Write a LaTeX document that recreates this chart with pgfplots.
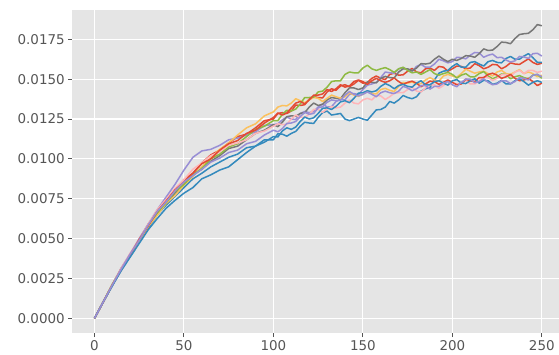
\documentclass[border=0pt]{standalone}
\usepackage{fontspec}
\setmainfont{DejaVu Sans}
\usepackage{pgfplots}
\usepackage{pgfplotstable}
\pgfplotsset{compat=1.18}
\definecolor{ggred}{HTML}{E24A33}
\definecolor{ggblue}{HTML}{348ABD}
\definecolor{ggpurple}{HTML}{988ED5}
\definecolor{gggray}{HTML}{777777}
\definecolor{ggyellow}{HTML}{FBC15E}
\definecolor{gggreen}{HTML}{8EBA42}
\definecolor{ggpink}{HTML}{FFB5B8}
\definecolor{ggbg}{HTML}{E5E5E5}
\definecolor{ticktext}{HTML}{555555}
\pgfplotstableread{
x a b c d e f g h i j
0 0 0 0 0 0 0 0 0 0 0
5 10.5e-4 10.5e-4 10.5e-4 10.5e-4 10.5e-4 10.5e-4 10.5e-4 10.5e-4 10.5e-4 10.5e-4
10 21e-4 20.5e-4 21e-4 21e-4 21e-4 21.5e-4 21e-4 21e-4 20.5e-4 21e-4
15 31.5e-4 30.5e-4 31.5e-4 31e-4 30.5e-4 31e-4 31.5e-4 30.5e-4 30e-4 31e-4
20 40e-4 39e-4 40.5e-4 39.5e-4 40e-4 40.5e-4 41e-4 40e-4 38.5e-4 40.5e-4
25 49.5e-4 48e-4 50e-4 49e-4 48e-4 49e-4 49.5e-4 49.5e-4 47e-4 49e-4
30 59e-4 56.5e-4 59e-4 57.5e-4 57.5e-4 58.5e-4 59e-4 58e-4 55.5e-4 58.5e-4
35 66.5e-4 65e-4 68e-4 66e-4 64.5e-4 66e-4 68e-4 67e-4 62.5e-4 67e-4
40 74.5e-4 71e-4 76e-4 72e-4 72e-4 72.5e-4 74.5e-4 73.5e-4 69e-4 73e-4
45 80e-4 76.5e-4 84e-4 78.5e-4 77e-4 79.5e-4 81.5e-4 80.5e-4 74e-4 80e-4
50 87e-4 82e-4 93e-4 84e-4 83.5e-4 84e-4 87e-4 85.5e-4 78.5e-4 85.5e-4
55 91e-4 87.5e-4 101e-4 90e-4 89e-4 90e-4 93.5e-4 91e-4 82e-4 89.5e-4
60 97.5e-4 91e-4 105e-4 93.5e-4 95e-4 94e-4 97.5e-4 97e-4 87.5e-4 93.5e-4
65 102.5e-4 95e-4 106e-4 98.5e-4 100.5e-4 100e-4 102e-4 100e-4 90e-4 98e-4
70 105.5e-4 98e-4 108.5e-4 102e-4 106e-4 103e-4 104.5e-4 105.5e-4 93e-4 100.5e-4
75 110e-4 101e-4 112e-4 106.5e-4 110e-4 107.5e-4 108.5e-4 109.5e-4 95e-4 104e-4
80 114e-4 103e-4 113e-4 108e-4 115e-4 109.5e-4 110e-4 111.5e-4 99.5e-4 105.5e-4
85 115.5e-4 107e-4 115e-4 112e-4 119.5e-4 114e-4 112e-4 116e-4 104e-4 109.5e-4
90 119.5e-4 108e-4 117e-4 116e-4 122e-4 118.5e-4 116e-4 118e-4 108e-4 111e-4
95 124e-4 112e-4 121e-4 118e-4 127e-4 120.5e-4 117.5e-4 122.5e-4 110.5e-4 115e-4
100 125e-4 112e-4 121.5e-4 121.5e-4 129.5e-4 124e-4 120.5e-4 126e-4 114e-4 118e-4
102.5 128.5e-4 115.75e-4 122e-4 120.25e-4 132.5e-4 124e-4 122e-4 128.75e-4 113.75e-4 117e-4
105 129e-4 115.5e-4 124.5e-4 123e-4 133.5e-4 128e-4 121.5e-4 127.5e-4 117.5e-4 119e-4
107.5 128.5e-4 114.25e-4 126.25e-4 126.5e-4 133.25e-4 130.5e-4 121.75e-4 128.75e-4 119.5e-4 122.25e-4
110 130e-4 116e-4 125e-4 127e-4 135e-4 130e-4 125e-4 132e-4 118.5e-4 122.5e-4
112.5 133.75e-4 117.25e-4 124.75e-4 126.75e-4 137.75e-4 131.25e-4 127.5e-4 135e-4 120e-4 123.5e-4
115 133.5e-4 120.5e-4 128.5e-4 128.5e-4 136.5e-4 134.5e-4 126e-4 136e-4 123.5e-4 126.5e-4
117.5 134e-4 123e-4 129.75e-4 129e-4 135.25e-4 138.5e-4 126e-4 134.5e-4 126.25e-4 129.25e-4
120 137.5e-4 122.5e-4 129e-4 132.5e-4 137e-4 138.5e-4 128e-4 137e-4 125e-4 128e-4
122.5 139e-4 122.25e-4 129.75e-4 135e-4 138.5e-4 138.75e-4 131e-4 140e-4 125.75e-4 128.5e-4
125 138.5e-4 126e-4 132.5e-4 133.5e-4 138e-4 142e-4 131e-4 140e-4 128.5e-4 132e-4
127.5 138.25e-4 129e-4 134.5e-4 134.25e-4 136e-4 142.5e-4 129.25e-4 140.75e-4 131.75e-4 132.75e-4
130 142e-4 130e-4 132.5e-4 137e-4 138e-4 145e-4 131.5e-4 143.5e-4 132e-4 135.5e-4
132.5 144e-4 127.5e-4 132.75e-4 138.5e-4 140e-4 148.5e-4 132.75e-4 142.25e-4 131e-4 137e-4
135 143e-4 128e-4 136e-4 138e-4 139e-4 149e-4 132e-4 144e-4 133e-4 136.5e-4
137.5 145.75e-4 128.5e-4 137.5e-4 137.75e-4 138e-4 149e-4 132.5e-4 146.5e-4 135.75e-4 136.75e-4
140 146.5e-4 125e-4 137e-4 141.5e-4 139e-4 153e-4 135e-4 145e-4 136.5e-4 140e-4
142.5 145.25e-4 124e-4 140.5e-4 144.5e-4 141.5e-4 154.5e-4 137e-4 145.75e-4 135.25e-4 142.25e-4
145 147e-4 125e-4 141e-4 144.5e-4 140e-4 154e-4 135e-4 148.5e-4 138e-4 140.5e-4
147.5 149.25e-4 126e-4 140.25e-4 143.5e-4 139.25e-4 154e-4 134.5e-4 149.5e-4 141.25e-4 139.5e-4
150 147.5e-4 125e-4 143.5e-4 144.5e-4 140.5e-4 157e-4 137e-4 148.5e-4 141.5e-4 140.5e-4
152.5 148e-4 124.25e-4 146.25e-4 148.25e-4 142.25e-4 158.75e-4 138e-4 146.75e-4 142.75e-4 142e-4
155 150.5e-4 127.5e-4 147e-4 148e-4 141e-4 156.5e-4 137e-4 149e-4 142e-4 140.5e-4
157.5 152e-4 130.75e-4 148e-4 147.75e-4 140.75e-4 155.5e-4 139.75e-4 150.5e-4 142.75e-4 139e-4
160 150.5e-4 131e-4 151e-4 150.5e-4 143.5e-4 156.5e-4 139.5e-4 149e-4 145.5e-4 141.5e-4
162.5 149.75e-4 132.5e-4 154.5e-4 151.75e-4 144.25e-4 157.25e-4 137.25e-4 148e-4 147.25e-4 142.5e-4
165 153e-4 136e-4 154e-4 151e-4 143e-4 156e-4 139e-4 149e-4 146e-4 141.5e-4
167.5 153.75e-4 135e-4 153.75e-4 150.75e-4 142.25e-4 154.25e-4 141.25e-4 150.75e-4 144e-4 141e-4
170 152.5e-4 137e-4 156.5e-4 154.5e-4 145.5e-4 156.5e-4 141.5e-4 148.5e-4 146e-4 142.5e-4
172.5 152.75e-4 139.75e-4 157.25e-4 156.5e-4 148e-4 157.5e-4 141.5e-4 146.75e-4 146.75e-4 145.5e-4
175 155e-4 138.5e-4 156e-4 156.5e-4 147.5e-4 155.5e-4 143.5e-4 148e-4 145.5e-4 144.5e-4
177.5 156.75e-4 137.75e-4 155e-4 155.25e-4 148.25e-4 154e-4 145e-4 148.75e-4 145e-4 142.75e-4
180 154.5e-4 139e-4 158e-4 157e-4 147e-4 154.5e-4 142.5e-4 147.5e-4 147.5e-4 144e-4
182.5 154e-4 142.5e-4 159.25e-4 159.75e-4 147.25e-4 153e-4 142e-4 145.25e-4 149e-4 146e-4
185 156.5e-4 144e-4 157.5e-4 159.5e-4 149.5e-4 154.5e-4 144.5e-4 147e-4 146.5e-4 146e-4
187.5 157e-4 144.75e-4 157.5e-4 160e-4 151e-4 156e-4 146.5e-4 148.75e-4 146.5e-4 143.75e-4
190 155.5e-4 149.5e-4 159.5e-4 162.5e-4 149.5e-4 153.5e-4 146.5e-4 148.5e-4 148.5e-4 145.5e-4
192.5 158e-4 153.75e-4 162.5e-4 164.5e-4 148.75e-4 152.5e-4 144.25e-4 146.75e-4 149e-4 145.5e-4
195 157.5e-4 155e-4 161.5e-4 162.5e-4 152e-4 153.5e-4 146e-4 148e-4 147.5e-4 147.5e-4
197.5 155e-4 155.5e-4 160.25e-4 161e-4 153e-4 154.25e-4 148.5e-4 149.5e-4 146.25e-4 148.5e-4
200 156.5e-4 158e-4 161e-4 162.5e-4 152e-4 153e-4 148e-4 148e-4 149e-4 146.5e-4
202.5 158.25e-4 159.75e-4 163.75e-4 161.75e-4 151.25e-4 150.75e-4 146.75e-4 146.5e-4 149.75e-4 145.25e-4
205 158e-4 157.5e-4 163.5e-4 163e-4 153.5e-4 152.5e-4 147.5e-4 147e-4 147.5e-4 148e-4
207.5 156.5e-4 157.5e-4 162.75e-4 164.75e-4 156.25e-4 153.5e-4 149.25e-4 150e-4 147.25e-4 150e-4
210 157e-4 160.5e-4 165e-4 164.5e-4 155e-4 151.5e-4 147e-4 149e-4 149e-4 150e-4
212.5 159.75e-4 161e-4 166.75e-4 163.75e-4 153.75e-4 151.5e-4 147e-4 148.5e-4 150.25e-4 147.75e-4
215 158.5e-4 159.5e-4 166.5e-4 166e-4 154.5e-4 153.5e-4 149e-4 151e-4 147.5e-4 148.5e-4
217.5 156.5e-4 158.25e-4 163.75e-4 169e-4 155e-4 154.75e-4 151.5e-4 151e-4 149.25e-4 150.25e-4
220 157.5e-4 161e-4 165e-4 168e-4 153.5e-4 152e-4 151e-4 153e-4 149e-4 148e-4
222.5 159.25e-4 161.75e-4 165.75e-4 168.25e-4 152e-4 150.25e-4 149.25e-4 153.75e-4 146.75e-4 146.5e-4
225 159e-4 160.5e-4 163.5e-4 170.5e-4 154.5e-4 151.5e-4 150.5e-4 152.5e-4 147.5e-4 147e-4
227.5 156.5e-4 160.25e-4 163.75e-4 173.25e-4 155.5e-4 153.25e-4 152.75e-4 150.5e-4 149.25e-4 149e-4
230 158e-4 163e-4 162e-4 173e-4 153.5e-4 153e-4 153e-4 151.5e-4 147e-4 149e-4
232.5 160.25e-4 164.25e-4 160.75e-4 172.25e-4 153e-4 150.25e-4 151.75e-4 153e-4 147e-4 147.25e-4
235 159.5e-4 162.5e-4 161.5e-4 175.5e-4 154.5e-4 151.5e-4 154.5e-4 150.5e-4 149e-4 148.5e-4
237.5 159.25e-4 162.5e-4 164.25e-4 178e-4 156e-4 152.25e-4 155.5e-4 149e-4 150.25e-4 151e-4
240 161e-4 164.5e-4 164e-4 178.5e-4 153.5e-4 151e-4 153.5e-4 149.5e-4 148.5e-4 150.5e-4
242.5 162.75e-4 166e-4 163e-4 178.75e-4 154.5e-4 150.25e-4 155.5e-4 150.5e-4 146.25e-4 149.5e-4
245 160.5e-4 163.5e-4 166e-4 181e-4 153.5e-4 152.5e-4 155.5e-4 148.5e-4 148e-4 152.5e-4
247.5 159.25e-4 160.5e-4 166.25e-4 184.25e-4 151.5e-4 153e-4 154.25e-4 146e-4 149e-4 153e-4
250 160e-4 160.5e-4 164.5e-4 183.5e-4 152.5e-4 150.5e-4 155e-4 147.5e-4 148e-4 151.5e-4
}\data
\begin{document}
\begin{tikzpicture}
\path[use as bounding box] (-72.2bp,-22bp) rectangle (486.8bp,333bp);
\begin{axis}[
  at={(0,0)}, anchor=south west,
  width=486.8bp, height=322.7bp, scale only axis,
  xmin=-12.45, xmax=259.6, ymin=-0.00092, ymax=0.01932,
  axis background/.style={fill=ggbg},
  axis line style={draw=none},
  grid=major, grid style={white, line width=1.1bp},
  xtick={0,50,100,150,200,250},
  ytick={0,0.0025,0.005,0.0075,0.01,0.0125,0.015,0.0175},
  scaled y ticks=false,
  yticklabel style={/pgf/number format/.cd, fixed, fixed zerofill, precision=4},
  /pgf/number format/assume math mode=true,
  ticklabel style={font=\fontsize{13.5}{16}\selectfont, text=ticktext},
  tick align=outside, tick pos=left,
  major tick length=4bp,
  tick style={ticktext, line width=0.9bp},
  every axis plot/.append style={line width=1.5bp, line join=round},
  clip=true,
]
\addplot[ggred] table[x=x,y=a]{\data};
\addplot[ggblue] table[x=x,y=b]{\data};
\addplot[ggpurple] table[x=x,y=c]{\data};
\addplot[gggray] table[x=x,y=d]{\data};
\addplot[ggyellow] table[x=x,y=e]{\data};
\addplot[gggreen] table[x=x,y=f]{\data};
\addplot[ggpink] table[x=x,y=g]{\data};
\addplot[ggred] table[x=x,y=h]{\data};
\addplot[ggblue] table[x=x,y=i]{\data};
\addplot[ggpurple] table[x=x,y=j]{\data};
\end{axis}
\end{tikzpicture}
\end{document}
